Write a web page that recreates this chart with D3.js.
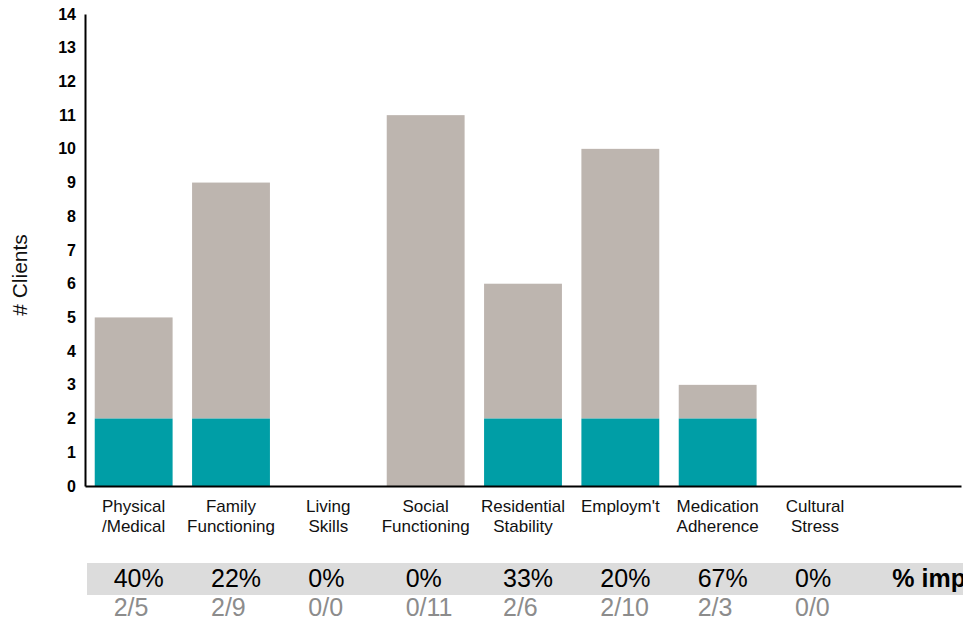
<!DOCTYPE html>
<html><head><meta charset="utf-8">
<script src="https://cdn.jsdelivr.net/npm/d3@7/dist/d3.min.js"></script>
<style>body{margin:0;background:#fff}svg{display:block;font-family:"Liberation Sans",Arial,sans-serif}</style>
</head><body>
<script>
const categories = [["Physical","/Medical"],["Family","Functioning"],["Living","Skills"],["Social","Functioning"],["Residential","Stability"],["Employm't"],["Medication","Adherence"],["Cultural","Stress"],[]];
const improved = [2,2,0,0,2,2,2,0,0];
const totals = [5,9,0,11,6,10,3,0,0];
const pctLabels = ["40%","22%","0%","0%","33%","20%","67%","0%","% improved"];
const fracLabels = ["2/5","2/9","0/0","0/11","2/6","2/10","2/3","0/0",""];
const yTicks = d3.range(0,15);

const W=963,H=621;
const svg=d3.select("body").append("svg").attr("width",W).attr("height",H);
const x=d3.scaleBand().domain(d3.range(categories.length)).range([85,961]).paddingInner(0.2).paddingOuter(0.1);
const y=d3.scaleLinear().domain([0,14]).range([486,14]);

// bars
const g=svg.append("g");
g.selectAll("rect.tot").data(totals).join("rect")
 .attr("x",(d,i)=>x(i)).attr("width",x.bandwidth())
 .attr("y",(d,i)=>y(d)).attr("height",(d,i)=>y(improved[i])-y(d))
 .attr("fill","#bdb5af");
g.selectAll("rect.imp").data(improved).join("rect")
 .attr("x",(d,i)=>x(i)).attr("width",x.bandwidth())
 .attr("y",d=>y(d)).attr("height",d=>y(0)-y(d))
 .attr("fill","#009ea6");

// y axis
const ya=svg.append("g").attr("transform","translate(85,0)")
 .call(d3.axisLeft(y).tickValues(yTicks).tickSize(0).tickPadding(9).tickFormat(d3.format("d")));
ya.select(".domain").attr("stroke","#000").attr("stroke-width",2);
ya.selectAll("text").attr("font-size",16).attr("font-weight","bold").attr("fill","#000").attr("font-family","Liberation Sans, Arial, sans-serif");

// x axis line
const xa=svg.append("g").attr("transform","translate(0,486)")
 .call(d3.axisBottom(x).tickSize(0).tickFormat(""));
xa.select(".domain").attr("stroke","#000").attr("stroke-width",2);

// category labels
svg.selectAll("text.cat").data(categories).join("text").attr("class","cat")
 .attr("text-anchor","middle").attr("font-size",17).attr("fill","#111")
 .each(function(d,i){
   d3.select(this).selectAll("tspan").data(d).join("tspan")
    .attr("x",x(i)+x.bandwidth()/2).attr("y",(t,j)=>512+j*20).text(t=>t);
 });

// y title
svg.append("text").attr("transform","translate(27,275) rotate(-90)")
 .attr("text-anchor","middle").attr("font-size",21).attr("fill","#111").text("# Clients");

// table band
svg.append("rect").attr("x",87).attr("y",563).attr("width",W-87).attr("height",32).attr("fill","#dcdcdc");
svg.selectAll("text.pct").data(pctLabels).join("text")
 .attr("x",(d,i)=>x(i)+x.bandwidth()/2-20).attr("y",587)
 .attr("font-size",25).attr("fill","#000")
 .attr("font-weight",(d,i)=>i===pctLabels.length-1?"bold":"normal").text(d=>d);
svg.selectAll("text.frac").data(fracLabels).join("text")
 .attr("x",(d,i)=>x(i)+x.bandwidth()/2-20).attr("y",616)
 .attr("font-size",25).attr("fill","#8c8c8c").text(d=>d);
</script>
</body></html>
